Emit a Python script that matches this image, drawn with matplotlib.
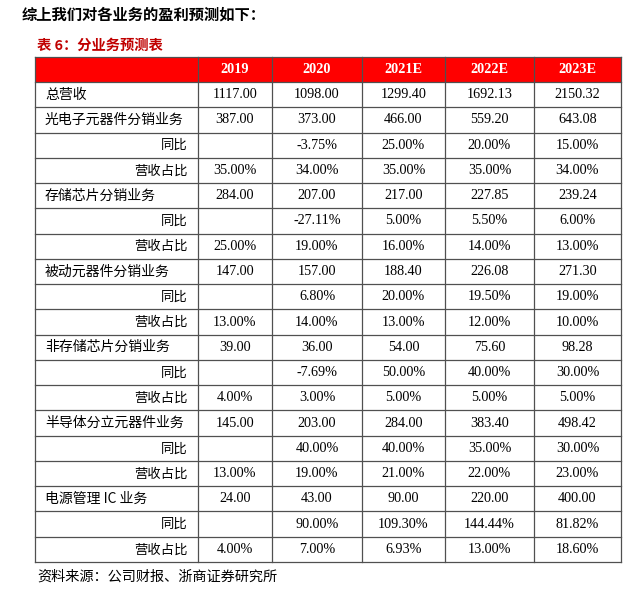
import matplotlib.pyplot as plt
from matplotlib.patches import Rectangle

plt.rcParams['font.family'] = ['Liberation Serif', 'Noto Sans CJK SC', 'DejaVu Sans']

title = "综上我们对各业务的盈利预测如下："
caption = "表 6：分业务预测表"
source = "资料来源：公司财报、浙商证券研究所"
years = ["2019", "2020", "2021E", "2022E", "2023E"]

total_name = "总营收"
total_rev = ["1117.00", "1098.00", "1299.40", "1692.13", "2150.32"]

segments = ["光电子元器件分销业务", "存储芯片分销业务", "被动元器件分销业务",
            "非存储芯片分销业务", "半导体分立元器件业务", "电源管理 IC 业务"]
seg_rev = [
    ["387.00", "373.00", "466.00", "559.20", "643.08"],
    ["284.00", "207.00", "217.00", "227.85", "239.24"],
    ["147.00", "157.00", "188.40", "226.08", "271.30"],
    ["39.00", "36.00", "54.00", "75.60", "98.28"],
    ["145.00", "203.00", "284.00", "383.40", "498.42"],
    ["24.00", "43.00", "90.00", "220.00", "400.00"],
]
seg_yoy = [
    ["", "-3.75%", "25.00%", "20.00%", "15.00%"],
    ["", "-27.11%", "5.00%", "5.50%", "6.00%"],
    ["", "6.80%", "20.00%", "19.50%", "19.00%"],
    ["", "-7.69%", "50.00%", "40.00%", "30.00%"],
    ["", "40.00%", "40.00%", "35.00%", "30.00%"],
    ["", "90.00%", "109.30%", "144.44%", "81.82%"],
]
seg_share = [
    ["35.00%", "34.00%", "35.00%", "35.00%", "34.00%"],
    ["25.00%", "19.00%", "16.00%", "14.00%", "13.00%"],
    ["13.00%", "14.00%", "13.00%", "12.00%", "10.00%"],
    ["4.00%", "3.00%", "5.00%", "5.00%", "5.00%"],
    ["13.00%", "19.00%", "21.00%", "22.00%", "23.00%"],
    ["4.00%", "7.00%", "6.93%", "13.00%", "18.60%"],
]

# build rows: (label, values, is_sub)
rows = [(total_name, total_rev, False)]
for name, rev, yoy, share in zip(segments, seg_rev, seg_yoy, seg_share):
    rows.append((name, rev, False))
    rows.append(("同比", yoy, True))
    rows.append(("营收占比", share, True))

fig = plt.figure(figsize=(6.4, 5.93), dpi=100)
ax = fig.add_axes([0, 0, 1, 1])
ax.set_xlim(0, 640)
ax.set_ylim(593, 0)
ax.axis('off')

col_x = [35, 198, 272, 362, 445, 534, 621]
top = 57
head_h = 25
row_h = (562 - 82) / len(rows)
line_c = '#505050'
cjk = ['Noto Sans CJK SC', 'Liberation Serif']

ax.text(22, 15, title, fontsize=11, fontweight='bold', va='center', ha='left',
        family=cjk)
ax.text(37, 46, caption, fontsize=10.3, fontweight='bold', va='center', ha='left',
        color='#C00000', family=cjk)

# header
ax.add_patch(Rectangle((col_x[0], top), col_x[-1] - col_x[0], head_h,
                       facecolor='#FF0000', edgecolor='none'))
for i, y in enumerate(years):
    xc = (col_x[i + 1] + col_x[i + 2]) / 2
    ax.text(xc, top + head_h / 2, y, color='white', fontweight='bold',
            fontsize=10.3, ha='center', va='center')

y0 = top + head_h
for r, (label, vals, sub) in enumerate(rows):
    yc = y0 + r * row_h + row_h / 2
    if sub:
        ax.text(col_x[1] - 10, yc, label, ha='right', va='center', fontsize=9.6,
                family=cjk, fontweight='light')
    else:
        ax.text(col_x[0] + 10, yc, label, ha='left', va='center', fontsize=10,
                family=cjk, fontweight='light')
    for i, v in enumerate(vals):
        xc = (col_x[i + 1] + col_x[i + 2]) / 2
        ax.text(xc, yc, v, ha='center', va='center', fontsize=10.2)

bottom = y0 + len(rows) * row_h
# grid lines
for r in range(len(rows) + 1):
    y = y0 + r * row_h
    ax.plot([col_x[0], col_x[-1]], [y, y], color=line_c, lw=0.9)
ax.plot([col_x[0], col_x[-1]], [top, top], color=line_c, lw=0.9)
for x in col_x:
    ax.plot([x, x], [top, bottom], color=line_c, lw=0.9)

ax.text(37, 577, source, fontsize=10.2, ha='left', va='center',
        family=cjk, fontweight='light')

fig.savefig('out.png', dpi=100)
